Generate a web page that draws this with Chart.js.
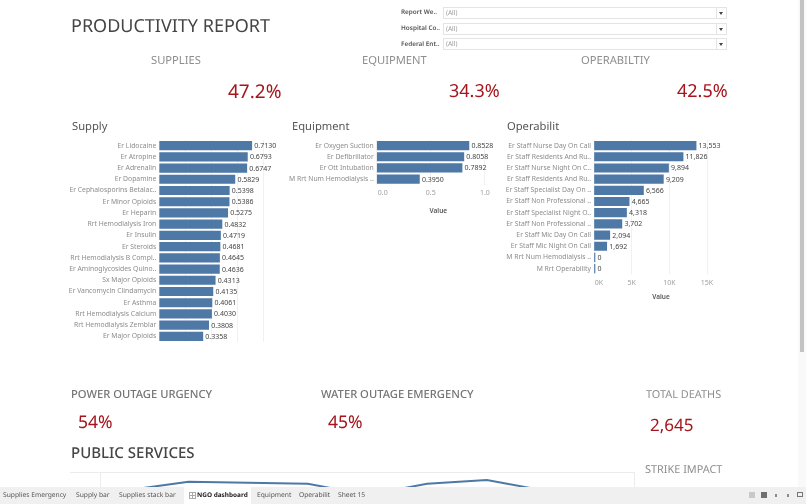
<!DOCTYPE html>
<html>
<head>
<meta charset="utf-8">
<title>Productivity Report</title>
<script src="https://cdn.jsdelivr.net/npm/chart.js@4/dist/chart.umd.min.js"></script>
<style>
  html, body { margin: 0; padding: 0; background: #fff; }
  body { width: 806px; height: 504px; overflow: hidden; position: relative; font-family: "Noto Sans", sans-serif; text-rendering: geometricPrecision; }
  .t { position: absolute; white-space: nowrap; line-height: 1; will-change: transform; }
  canvas { position: absolute; }
  .title { color: #454545; }
  .kpi-head { color: #8e8e8e; font-size: 11.2px; }
  .kpi-val { color: #a5151d; }
  .sheet { color: #555; font-size: 11.2px; }
  .low-head { color: #757575; font-size: 11.2px; }
  .filter-label { color: #555; font-size: 6.4px; font-weight: 600; }
  .filter-box { position: absolute; left: 443px; width: 282px; height: 10px; border: 1px solid #e4e4e4; background: #fff; }
  .filter-box span { position: absolute; left: 2px; top: 1.5px; font-size: 6.5px; color: #999; line-height: 1; will-change: transform; }
  .filter-box i { position: absolute; right: 9px; top: 0; height: 10px; border-left: 1px solid #e4e4e4; }
  .filter-box b { position: absolute; right: 3px; top: 4px; width: 0; height: 0; border: 2px solid transparent; border-top: 3px solid #444; border-bottom: 0; }
  .rule { position: absolute; background: #ececec; }
  #tabbar { position: absolute; left: 0; top: 487px; width: 806px; height: 17px; background: #f0f0f0; z-index: 5; }
  #tabbar .tab { position: absolute; top: 5px; font-size: 6.7px; color: #555; line-height: 1; white-space: nowrap; will-change: transform; }
  #tabbar .active { position: absolute; left: 184px; top: 0; width: 67px; height: 17px; background: #fff; }
  #tabbar .tab.on { color: #222; font-weight: 700; font-size: 6.45px; }
  #tabbar .grid { position: absolute; left: 189px; top: 5px; width: 5px; height: 5px; border: 1px solid #aaa; background: linear-gradient(#aaa,#aaa) center/100% 1px no-repeat, linear-gradient(#aaa,#aaa) center/1px 100% no-repeat; box-sizing: content-box; }
  #tabbar .ic { position: absolute; background: #8a8a8a; }
  #scroll { position: absolute; left: 798px; top: 0; width: 8px; height: 487px; background: #f9f9f9; }
  #scroll div { position: absolute; left: 2px; top: 0; width: 4px; height: 352px; background: #c3c3c3; }
</style>
</head>
<body>

<div class="t title" style="left:71px;top:17px;font-size:18px">PRODUCTIVITY REPORT</div>

<div class="t filter-label" style="left:401px;top:9px">Report We..</div>
<div class="filter-box" style="top:7px"><span>(All)</span><i></i><b></b></div>
<div class="t filter-label" style="left:401px;top:25px">Hospital Co..</div>
<div class="filter-box" style="top:23px"><span>(All)</span><i></i><b></b></div>
<div class="t filter-label" style="left:401px;top:41px">Federal Ent..</div>
<div class="filter-box" style="top:38px"><span>(All)</span><i></i><b></b></div>

<div class="t kpi-head" style="left:151px;top:55px">SUPPLIES</div>
<div class="t kpi-head" style="left:362px;top:55px">EQUIPMENT</div>
<div class="t kpi-head" style="left:581px;top:55px">OPERABILTIY</div>
<div class="t kpi-val" style="left:228px;top:82px;font-size:19px">47.2%</div>
<div class="t kpi-val" style="left:449px;top:82px;font-size:18px">34.3%</div>
<div class="t kpi-val" style="left:677px;top:82px;font-size:18px">42.5%</div>

<div class="t sheet" style="left:72px;top:121px">Supply</div>
<div class="t sheet" style="left:292px;top:121px">Equipment</div>
<div class="t sheet" style="left:507px;top:121px">Operabilit</div>

<canvas id="chart-supply" width="229" height="202" style="left:60px;top:140px"></canvas>
<canvas id="chart-equipment" width="215" height="75" style="left:285px;top:140px"></canvas>
<canvas id="chart-operability" width="228" height="161" style="left:500px;top:140px"></canvas>

<div class="t low-head" style="left:71px;top:389px;font-weight:500">POWER OUTAGE URGENCY</div>
<div class="t low-head" style="left:321px;top:389px;font-weight:500">WATER OUTAGE EMERGENCY</div>
<div class="t low-head" style="left:646px;top:390px;color:#8e8e8e;font-size:10.9px">TOTAL DEATHS</div>
<div class="t kpi-val" style="left:78px;top:414px;font-size:17.5px">54%</div>
<div class="t kpi-val" style="left:328px;top:414px;font-size:17.5px">45%</div>
<div class="t kpi-val" style="left:650px;top:416px;font-size:17px">2,645</div>

<div class="t title" style="left:71px;top:446px;font-size:15px;font-weight:500">PUBLIC SERVICES</div>
<div class="t low-head" style="left:645px;top:465px;color:#8e8e8e;font-size:10.9px">STRIKE IMPACT</div>

<div class="rule" style="left:70px;top:472px;width:564px;height:1px"></div>
<div class="rule" style="left:100px;top:472px;width:1px;height:20px"></div>
<div class="rule" style="left:634px;top:472px;width:1px;height:20px"></div>
<canvas id="chart-services" width="537" height="130" style="left:99px;top:473px"></canvas>

<div id="scroll"><div></div></div>

<div id="tabbar">
  <div class="active"></div>
  <div class="tab" style="left:3px">Supplies Emergency</div>
  <div class="tab" style="left:76px">Supply bar</div>
  <div class="tab" style="left:119px">Supplies stack bar</div>
  <div class="grid"></div>
  <div class="tab on" style="left:197px">NGO dashboard</div>
  <div class="tab" style="left:257px">Equipment</div>
  <div class="tab" style="left:299px">Operabilit</div>
  <div class="tab" style="left:338px">Sheet 15</div>
  <div class="ic" style="left:749px;top:5px;width:6px;height:6px;background:#c9c9c9"></div>
  <div class="ic" style="left:761px;top:5px;width:6px;height:6px;background:#707070"></div>
  <div class="ic" style="left:775px;top:7px;width:2px;height:3px"></div>
  <div class="ic" style="left:787px;top:7px;width:2px;height:3px"></div>
  <div class="ic" style="left:797px;top:5px;width:6px;height:5px;background:none;border:1px solid #777;box-sizing:border-box"></div>
</div>

<script>
// ── Data ─────────────────────────────────────────────────────────

const supplyLabels = [
  'Er Lidocaine', 'Er Atropine', 'Er Adrenalin', 'Er Dopamine', 'Er Cephalosporins Betalac..',
  'Er Minor Opioids', 'Er Heparin', 'Rrt Hemodialysis Iron', 'Er Insulin', 'Er Steroids',
  'Rrt Hemodialysis B Compl..', 'Er Aminoglycosides Quino..', 'Sx Major Opioids',
  'Er Vancomycin Clindamycin', 'Er Asthma', 'Rrt Hemodialysis Calcium',
  'Rrt Hemodialysis Zemblar', 'Er Major Opioids',
];
const supplyValues = [
  0.7130, 0.6793, 0.6747, 0.5829, 0.5398, 0.5386, 0.5275, 0.4832, 0.4719,
  0.4681, 0.4645, 0.4636, 0.4313, 0.4135, 0.4061, 0.4030, 0.3808, 0.3358,
];
const supplyTicks = [0.2, 0.4, 0.6, 0.8];

const equipmentLabels = ['Er Oxygen Suction', 'Er Defibrillator', 'Er Ott Intubation', 'M Rrt Num Hemodialysis ..'];
const equipmentValues = [0.8528, 0.8058, 0.7892, 0.3950];
const equipmentTicks = [0, 0.5, 1];

const operabilityLabels = [
  'Er Staff Nurse Day On Call', 'Er Staff Residents And Ru..', 'Er Staff Nurse Night On C..',
  'Er Staff Residents And Ru..', 'Er Staff Specialist Day On ..', 'Er Staff Non Professional ..',
  'Er Staff Specialist Night O..', 'Er Staff Non Professional ..', 'Er Staff Mic Day On Call',
  'Er Staff Mic Night On Call', 'M Rrt Num Hemodialysis ..', 'M Rrt Operability',
];
const operabilityValues = [13553, 11826, 9894, 9209, 6566, 4665, 4318, 3702, 2094, 1692, 0, 0];
const operabilityTicks = [0, 5000, 10000, 15000];

// Only the top of this line shows above the tab bar, the rest is estimated.
const serviceLabels = ['P1', 'P2', 'P3', 'P4', 'P5', 'P6', 'P7', 'P8', 'P9'];
const serviceValues = [113, 121.3, 120.3, 119.3, 108, 119.3, 123, 112, 115];

// ── Shared styling ───────────────────────────────────────────────

const FONT = '"Noto Sans", sans-serif';
const BAR_BLUE = '#4e79a7';
const TICK_GREY = '#8c8c8c';
const GRID_GREY = '#f1f1f1';

Chart.defaults.font.family = FONT;
Chart.defaults.animation = false;
Chart.defaults.responsive = false;

// Writes the value at the end of each bar.
const barValues = {
  id: 'barValues',
  afterDatasetsDraw(chart, _args, opts) {
    const { ctx } = chart;
    ctx.save();
    ctx.font = '7px ' + FONT;
    ctx.fillStyle = '#444';
    ctx.textBaseline = 'middle';
    chart.getDatasetMeta(0).data.forEach((bar, i) => {
      ctx.fillText(opts.format(chart.data.datasets[0].data[i]), bar.x + 2.5, bar.y + 0.5);
    });
    ctx.restore();
  },
};

// Tableau nudges the first tick label right so it clears the category labels.
const valueTicks = {
  id: 'valueTicks',
  afterDraw(chart, _args, opts) {
    if (!opts.show) return;
    const { ctx } = chart;
    const scale = chart.scales.x;
    ctx.save();
    ctx.font = '7px ' + FONT;
    ctx.fillStyle = '#a0a0a0';
    ctx.textAlign = 'center';
    ctx.textBaseline = 'middle';
    scale.ticks.forEach((tick, i) => {
      const nudge = i === 0 ? opts.firstNudge : 0;
      ctx.fillText(opts.format(tick.value), scale.getPixelForTick(i) + nudge, chart.chartArea.bottom + opts.gap);
    });
    ctx.restore();
  },
};

function hbar(id, labels, values, cfg) {
  return new Chart(document.getElementById(id), {
    type: 'bar',
    data: {
      labels,
      datasets: [{ data: values, backgroundColor: BAR_BLUE, barThickness: 8.5, minBarLength: 1 }],
    },
    options: {
      indexAxis: 'y',
      layout: { padding: 0, autoPadding: false },
      plugins: {
        legend: { display: false },
        tooltip: { enabled: false },
        barValues: { format: cfg.format },
        valueTicks: { show: !!cfg.tickFormat, format: cfg.tickFormat, firstNudge: cfg.firstNudge, gap: cfg.tickGap },
      },
      scales: {
        y: {
          // drop the half-label margin so the rows fill the plot height
          afterFit: s => { s.width = cfg.axisWidth; s.paddingTop = 0; s.paddingBottom = 0; },
          grid: { display: false, drawTicks: false },
          border: { display: false },
          ticks: { color: TICK_GREY, font: { size: 6.8 }, padding: 3, autoSkip: false },
        },
        x: {
          min: 0,
          max: cfg.max,
          afterBuildTicks: s => { s.ticks = cfg.ticks.map(value => ({ value })); },
          afterFit: s => { s.height = cfg.axisHeight; },
          grid: { color: GRID_GREY, drawTicks: false },
          border: { display: false },
          ticks: { display: false },
          title: {
            display: !!cfg.tickFormat,
            text: 'Value',
            color: '#555',
            font: { size: 6.5, weight: '600' },
            padding: 0,
          },
        },
      },
    },
    plugins: [barValues, valueTicks],
  });
}

// ── Chart instances ──────────────────────────────────────────────

const supplyChart = hbar('chart-supply', supplyLabels, supplyValues, {
  axisWidth: 99.3, axisHeight: 0, max: 1, ticks: supplyTicks,
  format: v => v.toFixed(4),
});

const equipmentChart = hbar('chart-equipment', equipmentLabels, equipmentValues, {
  axisWidth: 91.7, axisHeight: 30.3, max: 1.14, ticks: equipmentTicks,
  format: v => v.toFixed(4),
  tickFormat: v => v.toFixed(1),
  firstNudge: 6, tickGap: 8.5,
});

const operabilityChart = hbar('chart-operability', operabilityLabels, operabilityValues, {
  axisWidth: 94, axisHeight: 26.8, max: 17787, ticks: operabilityTicks,
  format: v => v.toLocaleString('en-US'),
  tickFormat: v => (v / 1000) + 'K',
  firstNudge: 5, tickGap: 8.5,
});

const servicesChart = new Chart(document.getElementById('chart-services'), {
  type: 'line',
  data: {
    labels: serviceLabels,
    datasets: [{ data: serviceValues, borderColor: BAR_BLUE, borderWidth: 2, pointRadius: 0, tension: 0 }],
  },
  options: {
    layout: { padding: 0, autoPadding: false },
    plugins: { legend: { display: false }, tooltip: { enabled: false } },
    scales: {
      x: { display: false, offset: true },
      y: { display: false, min: 0, max: 130 },
    },
  },
});
</script>
</body>
</html>
